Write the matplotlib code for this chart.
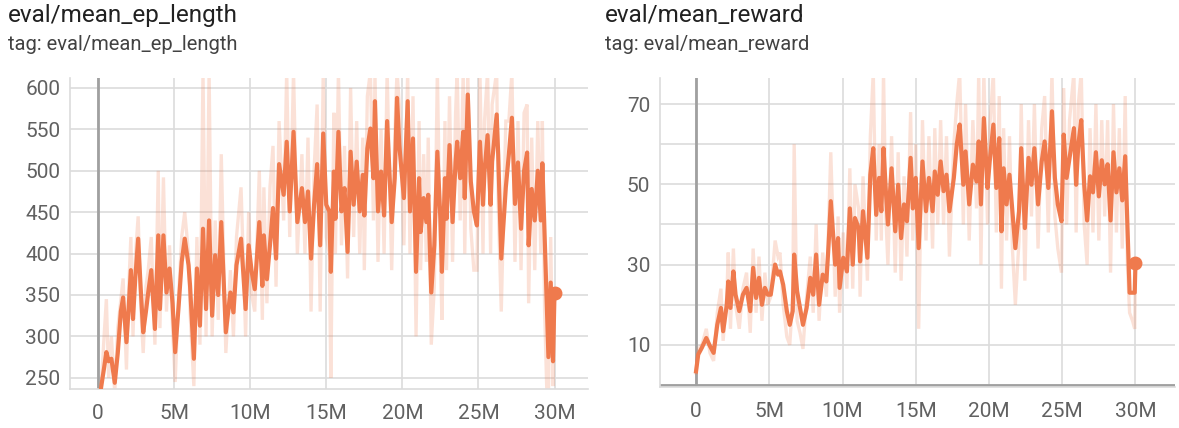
import matplotlib
matplotlib.use('Agg')
import matplotlib.pyplot as plt
from matplotlib.ticker import FuncFormatter, MultipleLocator, FixedLocator

plt.rcParams['font.family'] = ['Roboto', 'DejaVu Sans']

# ---- eval/mean_ep_length (steps in millions) ----
len_steps = [0.2, 0.4, 0.55, 0.7, 0.88, 1.1, 1.3, 1.5, 1.65, 1.87,
             2.0, 2.16, 2.3, 2.45, 2.64, 2.8, 2.97, 3.15, 3.3, 3.5,
             3.74, 3.96, 4.07, 4.3, 4.5, 4.7, 4.9, 5.07, 5.3, 5.5,
             5.7, 5.95, 6.05, 6.3, 6.5, 6.7, 6.9, 7.1, 7.3, 7.5,
             7.7, 7.9, 8.1, 8.4, 8.7, 8.9, 9.1, 9.4, 9.7, 9.9,
             10.1, 10.3, 10.6, 10.8, 10.9, 11.1, 11.3, 11.5, 11.7, 11.9,
             12.2, 12.4, 12.6, 12.85, 13.1, 13.4, 13.6, 13.8, 14.0, 14.2,
             14.4, 14.6, 14.8, 15.0, 15.2, 15.3, 15.5, 15.6, 15.8, 16.0,
             16.2, 16.4, 16.6, 16.8, 17.0, 17.2, 17.4, 17.5, 17.7, 17.9,
             18.1, 18.2, 18.4, 18.6, 18.8, 19.0, 19.3, 19.5, 19.65, 19.8,
             20.1, 20.35, 20.5, 20.7, 20.9, 21.1, 21.2, 21.4, 21.58, 21.7,
             21.9, 22.1, 22.3, 22.5, 22.6, 22.8, 22.9, 23.1, 23.3, 23.5,
             23.6, 23.8, 24.0, 24.1, 24.3, 24.5, 24.7, 24.9, 25.1, 25.3,
             25.4, 25.6, 25.8, 25.9, 26.2, 26.3, 26.5, 26.8, 27.0, 27.2,
             27.4, 27.6, 27.8, 28.0, 28.2, 28.3, 28.5, 28.7, 28.9, 29.1,
             29.2, 29.35, 29.5, 29.6, 29.75, 29.9, 30.0]
len_smooth = [238, 262, 281, 270, 273, 244, 280, 330, 347, 293,
              330, 380, 321, 370, 418, 360, 305, 330, 353, 380,
              309, 422, 333, 422, 353, 382, 340, 281, 337, 390,
              418, 386, 361, 273, 382, 313, 430, 333, 440, 325,
              398, 350, 438, 305, 353, 329, 386, 418, 333, 410,
              378, 357, 438, 361, 422, 369, 410, 455, 394, 508,
              471, 535, 451, 547, 438, 479, 438, 475, 394, 459,
              508, 410, 545, 459, 451, 378, 499, 442, 547, 451,
              479, 402, 523, 459, 511, 451, 495, 446, 527, 551,
              491, 584, 451, 499, 446, 560, 438, 491, 588, 531,
              467, 584, 451, 539, 378, 491, 426, 467, 438, 471,
              353, 410, 523, 442, 378, 491, 442, 531, 438, 511,
              535, 491, 547, 467, 592, 487, 451, 434, 535, 459,
              499, 543, 459, 511, 568, 519, 394, 480, 520, 564,
              460, 510, 430, 500, 522, 410, 478, 440, 500, 440,
              509, 420, 330, 275, 365, 270, 353]
len_raw = [236, 300, 345, 250, 300, 232, 310, 345, 370, 260,
           350, 420, 300, 395, 445, 340, 280, 360, 380, 420,
           290, 500, 310, 492, 330, 410, 310, 245, 350, 420,
           450, 400, 330, 240, 420, 290, 620, 300, 620, 300,
           440, 320, 520, 280, 380, 300, 420, 480, 300, 450,
           350, 330, 500, 320, 480, 340, 480, 530, 360, 560,
           440, 620, 420, 620, 400, 520, 400, 540, 330, 500,
           580, 330, 620, 420, 400, 250, 570, 400, 620, 410,
           530, 370, 600, 420, 560, 400, 540, 380, 590, 620,
           440, 620, 390, 550, 400, 620, 380, 540, 620, 580,
           410, 620, 400, 590, 300, 560, 380, 520, 390, 540,
           290, 360, 620, 400, 320, 560, 380, 590, 390, 570,
           620, 440, 620, 400, 620, 430, 380, 380, 620, 400,
           560, 620, 400, 580, 620, 460, 330, 560, 560, 620,
           390, 560, 380, 570, 580, 340, 540, 380, 560, 400,
           560, 330, 230, 230, 420, 240, 353]

# ---- eval/mean_reward (steps in millions) ----
rew_steps = [0.0, 0.15, 0.4, 0.7, 0.95, 1.2, 1.45, 1.7, 1.85, 2.1,
             2.2, 2.35, 2.55, 2.7, 2.95, 3.2, 3.45, 3.7, 3.9, 4.1,
             4.3, 4.5, 4.7, 4.9, 5.1, 5.4, 5.6, 5.73, 5.95, 6.2,
             6.4, 6.6, 6.7, 6.9, 7.1, 7.3, 7.55, 7.8, 8.0, 8.2,
             8.4, 8.65, 8.9, 9.05, 9.2, 9.5, 9.7, 9.8, 10.05, 10.3,
             10.5, 10.7, 10.85, 11.1, 11.2, 11.4, 11.7, 11.9, 12.1, 12.3,
             12.5, 12.65, 12.8, 12.96, 13.1, 13.35, 13.6, 13.8, 14.0, 14.2,
             14.4, 14.65, 14.8, 15.0, 15.2, 15.46, 15.7, 15.9, 16.15, 16.3,
             16.5, 16.7, 16.9, 17.1, 17.3, 17.6, 17.8, 18.0, 18.25, 18.4,
             18.65, 18.9, 19.15, 19.3, 19.45, 19.65, 19.9, 20.05, 20.3, 20.5,
             20.7, 20.85, 21.0, 21.2, 21.4, 21.6, 21.8, 22.05, 22.2, 22.45,
             22.7, 22.9, 23.1, 23.35, 23.6, 23.8, 24.05, 24.3, 24.5, 24.7,
             24.95, 25.1, 25.3, 25.5, 25.8, 25.95, 26.1, 26.3, 26.5, 26.7,
             26.9, 27.1, 27.3, 27.5, 27.7, 27.9, 28.1, 28.3, 28.5, 28.7,
             28.9, 29.1, 29.3, 29.45, 29.6, 29.8, 29.95, 30.0]
rew_smooth = [3.4, 7.6, 9.3, 11.7, 9.7, 8.0, 15.0, 19.2, 13.4, 20.0,
              25.8, 19.2, 28.3, 22.5, 18.4, 22.5, 24.2, 18.4, 29.2, 21.7,
              26.7, 20.0, 24.2, 22.5, 22.5, 30.0, 27.5, 28.3, 25.0, 18.4,
              15.0, 18.4, 32.5, 23.4, 19.2, 15.0, 19.2, 26.7, 22.5, 32.5,
              20.0, 27.5, 25.8, 35.0, 45.8, 30.0, 36.6, 24.2, 31.7, 28.3,
              44.0, 30.0, 41.6, 39.1, 30.8, 43.3, 31.7, 52.4, 59.0, 42.4,
              51.6, 43.3, 59.0, 48.3, 40.0, 54.0, 38.3, 49.9, 36.6, 45.0,
              40.8, 56.6, 44.0, 51.6, 34.1, 55.7, 43.3, 51.6, 43.3, 53.2,
              47.4, 55.7, 48.3, 52.4, 43.3, 51.6, 59.9, 64.9, 49.9, 58.2,
              45.0, 54.9, 50.7, 60.7, 45.0, 66.5, 49.1, 55.7, 64.9, 49.1,
              61.5, 38.3, 54.0, 45.0, 52.4, 43.3, 34.1, 43.3, 59.0, 39.1,
              56.6, 49.9, 59.0, 45.0, 55.7, 60.7, 49.1, 68.2, 51.6, 45.0,
              40.8, 62.4, 51.6, 56.6, 64.0, 49.9, 59.9, 66.0, 50.0, 41.0,
              52.0, 48.0, 58.0, 47.0, 56.0, 50.0, 55.0, 41.0, 58.0, 48.0,
              54.0, 46.0, 57.0, 40.0, 23.0, 23.0, 23.0, 30.3]
rew_raw = [3, 9, 10, 14, 8, 6, 18, 24, 11, 22,
           33, 14, 34, 20, 14, 24, 28, 13, 34, 18,
           32, 16, 28, 20, 22, 36, 32, 33, 20, 12,
           10, 22, 60, 16, 13, 9, 22, 32, 18, 40,
           16, 33, 22, 40, 58, 22, 42, 18, 38, 24,
           54, 24, 50, 44, 22, 52, 26, 62, 78, 36,
           60, 36, 78, 42, 30, 62, 28, 58, 26, 52,
           32, 68, 36, 60, 14, 66, 36, 62, 34, 64,
           40, 66, 40, 62, 32, 60, 70, 78, 40, 70,
           36, 66, 44, 78, 30, 78, 40, 64, 78, 38,
           72, 24, 64, 36, 62, 34, 20, 36, 70, 26,
           66, 42, 70, 34, 64, 72, 38, 78, 42, 34,
           28, 74, 40, 66, 78, 38, 70, 78, 40, 30,
           64, 38, 70, 36, 66, 42, 66, 28, 70, 38,
           64, 34, 72, 30, 18, 16, 14, 30]

x_ticks = [0, 5, 10, 15, 20, 25, 30]

ORANGE = '#ef7a4d'
GRID = '#dcdcdc'
ZERO = '#a0a0a0'
TICK = '#616161'


def fmt_steps(v, pos):
    return '0' if v == 0 else f'{int(round(v))}M'


def style_panel(ax):
    for s in ['top', 'right']:
        ax.spines[s].set_visible(False)
    for s in ['left', 'bottom']:
        ax.spines[s].set_color(GRID)
        ax.spines[s].set_linewidth(1.2)
    ax.xaxis.set_major_locator(FixedLocator(x_ticks))
    ax.xaxis.set_major_formatter(FuncFormatter(fmt_steps))
    ax.grid(True, which='both', color=GRID, linewidth=1.2)
    ax.set_axisbelow(True)
    ax.tick_params(which='both', length=0, labelsize=15, colors=TICK)
    ax.tick_params(axis='x', pad=11)
    ax.tick_params(axis='y', pad=7)
    ax.axvline(0, color=ZERO, linewidth=2, zorder=1)


def draw(ax, steps, raw, smooth):
    ax.plot(steps, raw, color=ORANGE, alpha=0.22, linewidth=2.4,
            solid_joinstyle='miter', zorder=2)
    ax.plot(steps, smooth, color=ORANGE, linewidth=3.0,
            solid_joinstyle='round', zorder=3)
    ax.plot(steps[-1], smooth[-1], 'o', color=ORANGE, markersize=9, zorder=4)


fig = plt.figure(figsize=(11.79, 4.28), dpi=100)

ax1 = fig.add_axes([70 / 1179, 39 / 428, 518 / 1179, 311 / 428])
style_panel(ax1)
draw(ax1, len_steps, len_raw, len_smooth)
ax1.set_xlim(-1.84, 32.2)
ax1.set_ylim(236.5, 612)
ax1.yaxis.set_major_locator(MultipleLocator(50))

ax2 = fig.add_axes([660 / 1179, 41 / 428, 515 / 1179, 309 / 428])
style_panel(ax2)
draw(ax2, rew_steps, rew_raw, rew_smooth)
ax2.set_xlim(-2.46, 32.7)
ax2.set_ylim(-0.5, 76.5)
ax2.yaxis.set_major_locator(FixedLocator([10, 30, 50, 70]))
ax2.yaxis.set_minor_locator(FixedLocator([0, 20, 40, 60]))
ax2.axhline(0, color=ZERO, linewidth=2, zorder=1)

fig.text(8 / 1179, 1 - 4 / 428, 'eval/mean_ep_length', fontsize=17.5,
         color='#212121', va='top', ha='left')
fig.text(8 / 1179, 1 - 35 / 428, 'tag: eval/mean_ep_length', fontsize=14.5,
         color='#424242', va='top', ha='left')
fig.text(605 / 1179, 1 - 4 / 428, 'eval/mean_reward', fontsize=17.5,
         color='#212121', va='top', ha='left')
fig.text(605 / 1179, 1 - 35 / 428, 'tag: eval/mean_reward', fontsize=14.5,
         color='#424242', va='top', ha='left')

fig.savefig('out.png', dpi=100)
